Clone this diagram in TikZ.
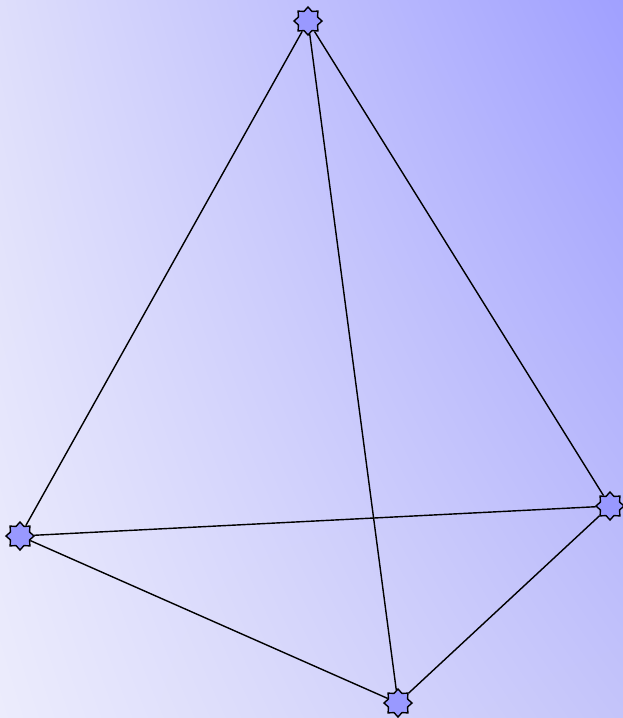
\documentclass[tikz,border=0pt]{standalone}
\usepackage{tikz}
\usetikzlibrary{shapes.geometric,shadings}
\definecolor{bgtl}{RGB}{222,222,251}
\definecolor{bgtr}{RGB}{160,160,255}
\definecolor{bgbl}{RGB}{236,236,252}
\definecolor{bgbr}{RGB}{196,196,250}
\tikzset{
  vert/.style={star, star points=8, star point ratio=1.35, minimum size=0.56cm, inner sep=0pt, draw=black, fill=blue!40, line width=0.8pt},
  edge/.style={line width=0.8pt, draw=black},
}

\begin{document}
\begin{tikzpicture}[x=0.02cm, y=-0.02cm]
  \clip (0,0) rectangle (623,718);
  \shade[upper left=bgtl, upper right=bgtr, lower left=bgbl, lower right=bgbr]
    (0,0) rectangle (623,718);
  \node[vert] (top) at (308,21) {};
  \node[vert] (lft) at (20,536) {};
  \node[vert] (rgt) at (610,506) {};
  \node[vert] (bot) at (398,703) {};
  \draw[edge] (top)--(lft);
  \draw[edge] (top)--(rgt);
  \draw[edge] (top)--(bot);
  \draw[edge] (lft)--(rgt);
  \draw[edge] (lft)--(bot);
  \draw[edge] (bot)--(rgt);
\end{tikzpicture}
\end{document}
